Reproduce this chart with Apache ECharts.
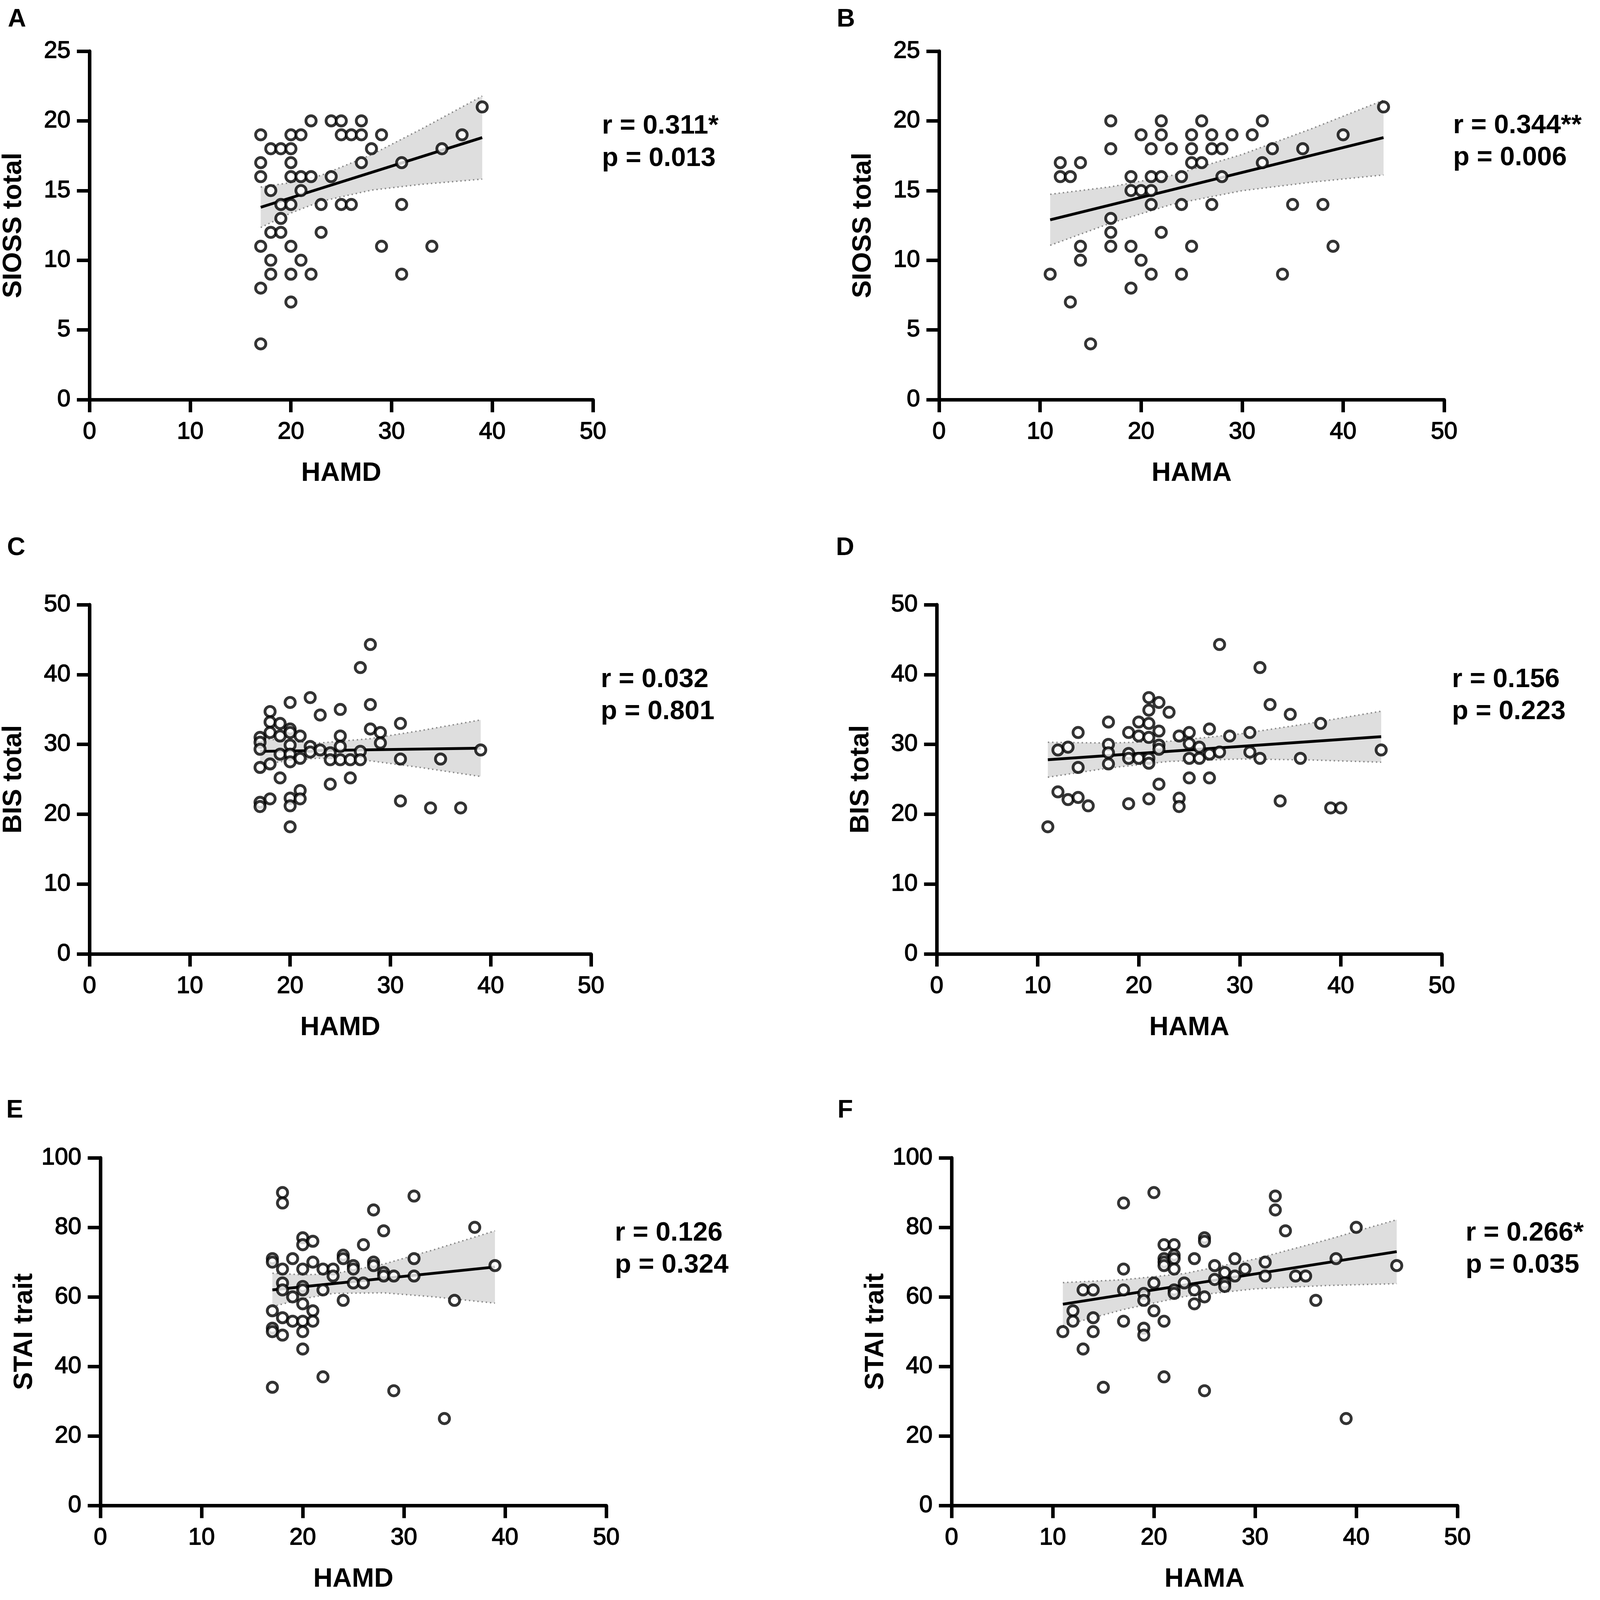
<!DOCTYPE html>
<html>
<head>
<meta charset="utf-8">
<title>SIOSS / BIS / STAI vs HAMD / HAMA</title>
<script src="https://cdn.jsdelivr.net/npm/echarts@6/dist/echarts.min.js"></script>
<style>
html,body{margin:0;padding:0;background:#fff;overflow:hidden;}
#main{width:100vw;height:100vh;}
</style>
</head>
<body>
<div id="main"></div>
<script>
// ---- data ----
// A: HAMD vs SIOSS total
var ptsA = [[17,19],[17,17],[17,16],[17,11],[17,8],[17,4],
	[18,18],[18,15],[18,12],[18,10],[18,9],
	[19,18],[19,14],[19,13],[19,12],
	[20,19],[20,18],[20,17],[20,16],[20,14],[20,11],[20,9],[20,7],
	[21,19],[21,16],[21,15],[21,10],
	[22,20],[22,16],[22,9],[23,14],[23,12],[24,20],[24,16],
	[25,20],[25,19],[25,14],[26,19],[26,14],
	[27,20],[27,19],[27,17],[28,18],[29,19],[29,11],
	[31,17],[31,14],[31,9],[34,11],[35,18],[37,19],[39,21]];
var fitA = [[17,13.8],[39,18.8]];
var bandXA = [17,20,23,28,33,39];
var bandHiA = [15.25,15.57,16.09,17.57,19.43,21.78];
var bandLoA = [12.35,13.39,14.23,15.03,15.45,15.82];

// B: HAMA vs SIOSS total
var ptsB = [[11,9],[12,17],[12,16],[13,16],[13,7],[14,17],[14,11],[14,10],[15,4],
	[17,20],[17,18],[17,13],[17,12],[17,11],
	[19,16],[19,15],[19,11],[19,8],[20,19],[20,15],[20,10],
	[21,18],[21,16],[21,15],[21,14],[21,9],
	[22,20],[22,19],[22,16],[22,12],[23,18],[24,16],[24,14],[24,9],
	[25,19],[25,18],[25,17],[25,11],[26,20],[26,17],
	[27,19],[27,18],[27,14],[28,18],[28,16],[29,19],[31,19],
	[32,20],[32,17],[33,18],[34,9],[35,14],[36,18],[38,14],[39,11],[40,19],[44,21]];
var fitB = [[11,12.9],[44,18.8]];
var bandXB = [11,17,23,30,37,44];
var bandHiB = [14.73,15.27,16.08,17.59,19.47,21.48];
var bandLoB = [11.07,12.67,14.0,14.99,15.61,16.12];

// C: HAMD vs BIS total
var ptsC = [[17,31.0],[17,30.3],[17,29.3],[17,26.7],[17,21.7],[17,21.1],
	[18,34.7],[18,33.2],[18,31.7],[18,27.2],[18,22.2],
	[19,33.0],[19,31.2],[19,28.6],[19,25.2],
	[20,36.0],[20,32.2],[20,31.7],[20,29.9],[20,28.6],[20,27.5],[20,22.3],[20,21.2],[20,18.2],
	[21,31.2],[21,28.0],[21,23.4],[21,22.2],
	[22,36.7],[22,29.7],[22,28.9],[23,34.2],[23,29.2],
	[24,28.8],[24,27.8],[24,24.3],[25,35.0],[25,31.2],[25,29.7],[25,27.8],
	[26,27.8],[26,25.2],[27,41.0],[27,29.0],[27,27.8],
	[28,44.3],[28,35.7],[28,32.2],[29,31.7],[29,30.2],
	[31,33.0],[31,27.9],[31,21.9],[34,20.9],[35,27.9],[37,20.9],[39,29.2]];
var fitC = [[17,29.0],[39,29.45]];
var bandXC = [17,20,23,28,33,39];
var bandHiC = [30.9,30.41,30.2,30.82,31.97,33.5];
var bandLoC = [27.1,27.71,28.04,27.64,26.69,25.4];

// D: HAMA vs BIS total
var ptsD = [[11,18.2],[12,29.2],[12,23.2],[13,29.6],[13,22.1],[14,31.7],[14,26.7],[14,22.4],[15,21.2],
	[17,33.2],[17,30.0],[17,28.8],[17,27.2],
	[19,31.7],[19,28.7],[19,28.0],[19,21.5],[20,33.2],[20,31.2],[20,28.0],
	[21,36.7],[21,34.9],[21,33.0],[21,31.0],[21,28.0],[21,27.3],[21,22.2],
	[22,36.0],[22,31.9],[22,29.9],[22,29.3],[22,24.3],[23,34.6],
	[24,31.2],[24,22.3],[24,21.1],[25,31.7],[25,30.1],[25,28.0],[25,25.2],
	[26,29.6],[26,28.0],[27,32.2],[27,28.6],[27,25.2],[28,44.3],[28,28.9],
	[29,31.2],[31,31.7],[31,28.9],[32,41.0],[32,28.0],
	[33,35.7],[34,21.9],[35,34.3],[36,28.0],[38,33.0],[39,20.9],[40,20.9],[44,29.2]];
var fitD = [[11,27.8],[44,31.1]];
var bandXD = [11,17,23,30,37,44];
var bandHiD = [30.3,30.19,30.44,31.49,33.03,34.75];
var bandLoD = [25.3,26.61,27.56,27.91,27.77,27.45];

// E: HAMD vs STAI trait
var ptsE = [[17,71],[17,70],[17,56],[17,51],[17,50],[17,34],
	[18,90],[18,87],[18,68],[18,64],[18,62],[18,54],[18,49],
	[19,71],[19,60],[19,53],
	[20,77],[20,75],[20,68],[20,63],[20,62],[20,58],[20,53],[20,50],[20,45],
	[21,76],[21,70],[21,56],[21,53],[22,68],[22,62],[22,37],[23,68],[23,66],
	[24,72],[24,71],[24,59],[25,69],[25,68],[25,64],[26,75],[26,64],
	[27,85],[27,70],[27,69],[28,79],[28,67],[28,66],[29,66],[29,33],
	[31,89],[31,71],[31,66],[34,25],[35,59],[37,80],[39,69]];
var fitE = [[17,62.0],[39,68.6]];
var bandXE = [17,20,23,28,33,39];
var bandHiE = [66.8,66.36,66.6,69.43,73.6,79.0];
var bandLoE = [57.2,59.44,61.0,61.17,60.0,58.2];

// F: HAMA vs STAI trait
var ptsF = [[11,50],[12,56],[12,53],[13,62],[13,45],[14,62],[14,54],[14,50],[15,34],
	[17,87],[17,68],[17,62],[17,53],[19,61],[19,59],[19,51],[19,49],
	[20,90],[20,64],[20,56],[21,75],[21,71],[21,70],[21,69],[21,53],[21,37],
	[22,75],[22,72],[22,71],[22,68],[22,62],[22,61],[23,64],
	[24,71],[24,62],[24,58],[25,77],[25,76],[25,60],[25,33],
	[26,69],[26,65],[27,67],[27,64],[27,63],[28,71],[28,66],[29,68],
	[31,70],[31,66],[32,89],[32,85],[33,79],[34,66],[35,66],[36,59],
	[38,71],[39,25],[40,80],[44,69]];
var fitF = [[11,57.9],[44,73.0]];
var bandXF = [11,17,23,30,37,44];
var bandHiF = [64.1,64.93,66.7,70.88,76.34,82.2];
var bandLoF = [51.7,56.37,60.1,62.32,63.26,63.8];

var statR = ['r = 0.311*','r = 0.344**','r = 0.032','r = 0.156','r = 0.126','r = 0.266*'];
var statP = ['p = 0.013','p = 0.006','p = 0.801','p = 0.223','p = 0.324','p = 0.035'];
var letters = ['A','B','C','D','E','F'];

// ---- layout: designed for a 4550 x 4382 page, scaled to the real viewport ----
var sx = window.innerWidth / 4550, sy = window.innerHeight / 4382;
var s = Math.min(sx, sy);
function X(v){ return Math.round(v * sx); }
function Y(v){ return Math.round(v * sy); }
function S(v){ return v * s; }

var FONT = '"Liberation Sans", Arial, sans-serif';
var grids = [
	[250,140,1436,954],[2670,140,1436,954],
	[244,1656,1436,956],[2664,1656,1436,956],
	[286,3171,1438,952],[2706,3171,1438,952]
];
var statPos = [[1712,346],[4132,344],[1709,1861],[4129,1861],[1748,3377],[4168,3377]];
var letterPos = [[22,54],[2379,54],[20,1501],[2377,1501],[18,3041],[2382,3041]];

var panels = [
	{pts:ptsA, fit:fitA, bx:bandXA, hi:bandHiA, lo:bandLoA, yMax:25, yStep:5, xName:'HAMD', yName:'SIOSS total'},
	{pts:ptsB, fit:fitB, bx:bandXB, hi:bandHiB, lo:bandLoB, yMax:25, yStep:5, xName:'HAMA', yName:'SIOSS total'},
	{pts:ptsC, fit:fitC, bx:bandXC, hi:bandHiC, lo:bandLoC, yMax:50, yStep:10, xName:'HAMD', yName:'BIS total'},
	{pts:ptsD, fit:fitD, bx:bandXD, hi:bandHiD, lo:bandLoD, yMax:50, yStep:10, xName:'HAMA', yName:'BIS total'},
	{pts:ptsE, fit:fitE, bx:bandXE, hi:bandHiE, lo:bandLoE, yMax:100, yStep:20, xName:'HAMD', yName:'STAI trait'},
	{pts:ptsF, fit:fitF, bx:bandXF, hi:bandHiF, lo:bandLoF, yMax:100, yStep:20, xName:'HAMA', yName:'STAI trait'}
];

var axisLine = {show:true, onZero:false, lineStyle:{color:'#000', width:S(10)}};
var axisTick = {show:true, length:S(36), lineStyle:{color:'#000', width:S(10)}};
var nameStyle = {fontFamily:FONT, fontSize:S(76), fontWeight:'bold', color:'#000'};
// tick labels in the figure are a little heavier than plain regular
var tickFont = {fontFamily:FONT, fontSize:S(68), color:'#000', textBorderColor:'#000', textBorderWidth:S(2)};

function zip(xs, ys){
	var out = [];
	for (var i = 0; i < xs.length; i++) out.push([xs[i], ys[i]]);
	return out;
}

// grey confidence band drawn as one polygon through the axis scales
function bandSeries(i, bx, hi, lo){
	return {
		type:'custom', xAxisIndex:i, yAxisIndex:i, silent:true, z:1,
		data:[[bx[0], lo[0]]],
		renderItem:function(params, api){
			var pts = [];
			for (var k = 0; k < bx.length; k++) pts.push(api.coord([bx[k], hi[k]]));
			for (var j = bx.length - 1; j >= 0; j--) pts.push(api.coord([bx[j], lo[j]]));
			return {type:'polygon', shape:{points:pts}, style:{fill:'#dedede'}};
		}
	};
}

function dottedSeries(i, data){
	return {
		type:'line', xAxisIndex:i, yAxisIndex:i, data:data, symbol:'none', silent:true, z:2,
		lineStyle:{color:'#8a8a8a', width:S(4), type:[S(4),S(8)]}
	};
}

var option = {
	backgroundColor:'#fff',
	animation:false,
	grid:[], xAxis:[], yAxis:[], series:[], graphic:[]
};

panels.forEach(function(p, i){
	var g = grids[i];
	option.grid.push({left:X(g[0]), top:Y(g[1]), width:X(g[2]), height:Y(g[3])});
	option.xAxis.push({
		type:'value', gridIndex:i, min:0, max:50, interval:10,
		axisLine:axisLine, axisTick:axisTick, splitLine:{show:false},
		axisLabel:Object.assign({margin:S(58)}, tickFont),
		name:p.xName, nameLocation:'middle', nameGap:S(172), nameTextStyle:nameStyle
	});
	option.yAxis.push({
		type:'value', gridIndex:i, min:0, max:p.yMax, interval:p.yStep,
		axisLine:axisLine, axisTick:axisTick, splitLine:{show:false},
		axisLabel:Object.assign({margin:S(54)}, tickFont),
		name:p.yName, nameLocation:'middle', nameGap:S(178), nameTextStyle:nameStyle
	});
	option.series.push(bandSeries(i, p.bx, p.hi, p.lo));
	option.series.push(dottedSeries(i, zip(p.bx, p.hi)));
	option.series.push(dottedSeries(i, zip(p.bx, p.lo)));
	// regression line
	option.series.push({
		type:'line', xAxisIndex:i, yAxisIndex:i, data:p.fit, symbol:'none', silent:true, z:3,
		lineStyle:{color:'#000', width:S(8)}
	});
	// open circles
	option.series.push({
		type:'scatter', xAxisIndex:i, yAxisIndex:i, data:p.pts, symbol:'circle', symbolSize:S(29), z:4,
		itemStyle:{color:'#fff', borderColor:'#000', borderWidth:S(8)}
	});
	option.graphic.push({
		type:'text', x:X(statPos[i][0]), y:Y(statPos[i][1]),
		style:{text:statR[i], font:'bold ' + S(76) + 'px ' + FONT, fill:'#000', verticalAlign:'middle'}
	});
	option.graphic.push({
		type:'text', x:X(statPos[i][0]), y:Y(statPos[i][1] + 88),
		style:{text:statP[i], font:'bold ' + S(76) + 'px ' + FONT, fill:'#000', verticalAlign:'middle'}
	});
	option.graphic.push({
		type:'text', x:X(letterPos[i][0]), y:Y(letterPos[i][1]),
		style:{text:letters[i], font:'bold ' + S(72) + 'px ' + FONT, fill:'#000', verticalAlign:'middle'}
	});
});

var myChart = echarts.init(document.getElementById('main'));
myChart.setOption(option);
window.addEventListener('resize', function(){ myChart.resize(); });
</script>
</body>
</html>
